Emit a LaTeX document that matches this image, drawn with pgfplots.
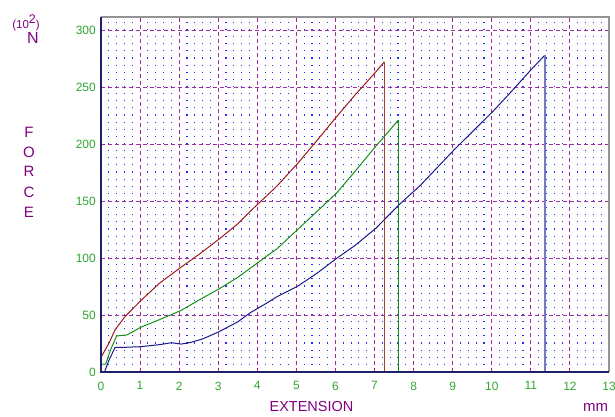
\documentclass[border=0pt]{standalone}
\usepackage{fontspec}
\setmainfont{Liberation Sans}
\usepackage{pgfplots}
\pgfplotsset{compat=1.18}
\definecolor{pur}{RGB}{128,0,128}
\definecolor{tickgreen}{RGB}{50,165,50}
\definecolor{majgrid}{RGB}{160,45,165}
\definecolor{mingrid}{RGB}{40,40,255}
\definecolor{cred}{RGB}{160,25,25}
\definecolor{cgreen}{RGB}{20,145,20}
\definecolor{cblue}{RGB}{25,25,140}
\definecolor{navy}{RGB}{30,30,110}
\begin{document}
\begin{tikzpicture}
\useasboundingbox (-101pt,-44pt) rectangle (514pt,372pt);
\begin{axis}[
  at={(0,0)}, anchor=south west,
  scale only axis, width=508pt, height=354.5pt,
  xmin=0, xmax=13, ymin=0, ymax=311,
  xtick={0,...,13}, ytick={0,50,...,300},
  minor x tick num=4,
  major tick length=0pt, minor tick length=0pt,
  axis line style={draw=none},
  xmajorgrids, ymajorgrids, xminorgrids,
  major grid style={draw=majgrid, line width=1pt, dash pattern=on 4pt off 3pt},
  minor grid style={draw=mingrid, line width=1.1pt, dash pattern=on 1.1pt off 6.025pt},
  ticklabel style={text=tickgreen, font=\fontsize{12}{14}\selectfont},
  /pgf/number format/assume math mode=true,
  xticklabel style={inner sep=0pt, yshift=-9.5pt},
  yticklabel style={inner sep=0pt, xshift=-5pt},
  clip=false,
]
\addplot[cred, line width=1pt] coordinates {
(0,13) (0.1,19) (0.2,25) (0.36,37) (0.6,48) (0.8,55) (1.0,62) (1.5,78) (2.05,92) (2.5,103) (3.0,116) (3.5,130) (3.82,141) (4.16,152) (4.5,163) (5.02,182.5) (5.5,202) (6.03,224) (6.5,243) (7.0,262) (7.25,272)
};
\addplot[cred!85, line width=1.3pt] coordinates {(7.26,272) (7.26,0)};
\addplot[cgreen, line width=1pt] coordinates {
(0,7) (0.12,7) (0.25,20) (0.40,31.6) (0.66,32.5) (0.8,35) (1.0,39) (1.5,46) (2.05,54) (2.5,63) (3.0,72.5) (3.5,83) (3.82,91) (4.16,99.7) (4.5,108) (5.02,124.6) (5.5,140) (6.03,157) (6.5,176) (7.03,198) (7.26,207) (7.61,221)
};
\addplot[cgreen, line width=1.3pt] coordinates {(7.62,221) (7.62,0)};
\addplot[cblue, line width=1pt] coordinates {
(0.09,0) (0.2,10) (0.36,21.6) (0.5,21.5) (1.0,22.2) (1.5,24) (1.8,25.7) (2.05,24.5) (2.3,26) (2.6,29) (3.0,35) (3.5,44) (3.82,52) (4.16,58.8) (4.5,66) (5.02,75) (5.5,86) (6.03,99.7) (6.5,111) (7.03,126) (7.62,146.5) (8.18,164) (9.03,194.7) (10.04,229) (10.5,246) (11.0,265) (11.36,278)
};
\addplot[color={rgb,255:red,120;green,120;blue,200}, line width=2pt] coordinates {(11.37,278) (11.37,0)};
\draw[color=gray!85, line width=2pt] (rel axis cs:0,1) -- (rel axis cs:1,1) -- (rel axis cs:1,0);
\draw[navy, line width=2pt] (rel axis cs:0,1) -- (rel axis cs:0,0) -- (rel axis cs:1,0);
\end{axis}
\node[pur, font=\fontsize{11.5}{13}\selectfont] at (-75pt,349pt) {(10\raisebox{5pt}{\fontsize{12.5}{14}\selectfont 2})};
\node[pur, font=\fontsize{16}{18}\selectfont] at (-68pt,334pt) {N};
\foreach \l/\y in {F/240,O/220,R/201,C/180,E/160}
  \node[pur, font=\fontsize{15}{17}\selectfont] at (-72pt,\y pt) {\l};
\node[pur, font=\fontsize{14.5}{17}\selectfont] at (210.5pt,-35pt) {EXTENSION};
\node[pur, font=\fontsize{15}{17}\selectfont] at (494.5pt,-35pt) {mm};
\end{tikzpicture}
\end{document}
